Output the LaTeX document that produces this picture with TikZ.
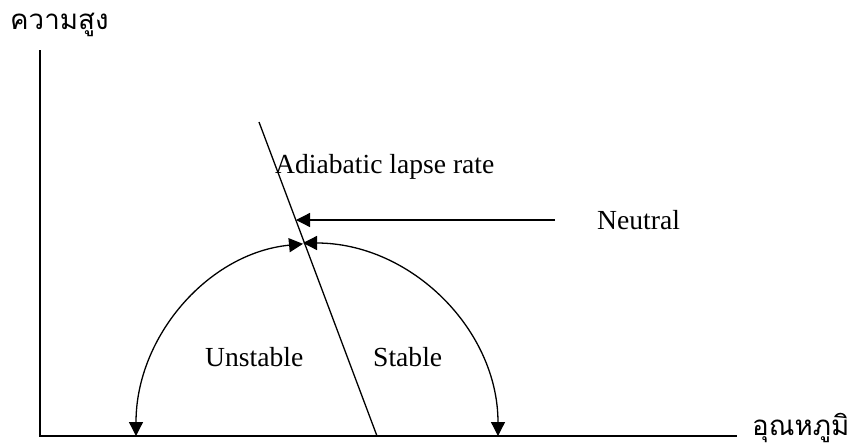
\documentclass[tikz,border=0pt]{standalone}
\usepackage{fontspec}
\setmainfont{Liberation Serif}
\newfontfamily\thaifont[Script=Thai]{Loma}
\usetikzlibrary{arrows.meta}
\begin{document}
\begin{tikzpicture}[x=1pt,y=-1pt,
  axis/.style={line width=1.6pt},
  ln/.style={line width=1.3pt},
  tip/.style={-{Triangle[length=14pt,width=14pt]}},
  tips/.style={{Triangle[length=14pt,width=14pt]}-{Triangle[length=14pt,width=14pt]}},
  lbl/.style={font=\fontsize{27.6}{30}\selectfont, inner sep=0pt},
  thlbl/.style={font=\thaifont\fontsize{27.7}{30}\selectfont, inner sep=0pt}]
\useasboundingbox (0,0) rectangle (855,447);
\coordinate (o) at (40,436);
\coordinate (ytop) at (40,50);
\coordinate (xend) at (737,436);
\coordinate (atop) at (259,122);
\coordinate (abot) at (377,436);
\coordinate (nstart) at (555,220);
\coordinate (ntip) at (296,220);
\coordinate (lend) at (136,436);
\coordinate (rtop) at (303,243);
\node[thlbl, anchor=base west] (ylab) at (10,30) {ความสูง};
\node[thlbl, anchor=base west] (xlab) at (752,435) {อุณหภูมิ};
\draw[axis] (ytop) -- (o) -- (xend);
\draw[ln] (atop) -- (abot);
\node[lbl, anchor=base west] (adl) at (275,173) {Adiabatic lapse rate};
\node[lbl, anchor=base west] (neu) at (597,229) {Neutral};
\draw[ln, tip] (nstart) -- (ntip);
\draw[ln, tips] (lend) arc[start angle=180, end angle=264.7, x radius=184, y radius=193];
\draw[ln, tips] (rtop) arc[start angle=270, end angle=360, x radius=195, y radius=193];
\node[lbl, anchor=base west] (uns) at (205,366) {Unstable};
\node[lbl, anchor=base west] (sta) at (373,366) {Stable};
\end{tikzpicture}
\end{document}
